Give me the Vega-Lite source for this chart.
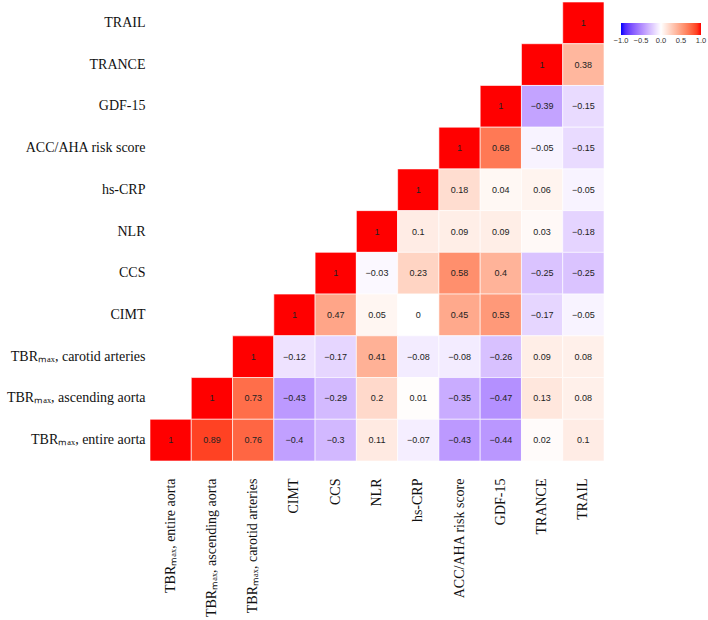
{
  "$schema": "https://vega.github.io/schema/vega-lite/v6.json",
  "autosize": "none",
  "padding": {"left": 150, "top": 2, "right": 104, "bottom": 159},
  "width": 454,
  "height": 459,
  "background": "white",
  "config": {"view": {"stroke": null}},
  "data": {"values": [
    {"x": "TRAIL", "y": "TRAIL", "r": 1},
    {"x": "TRANCE", "y": "TRANCE", "r": 1},
    {"x": "TRAIL", "y": "TRANCE", "r": 0.38},
    {"x": "GDF-15", "y": "GDF-15", "r": 1},
    {"x": "TRANCE", "y": "GDF-15", "r": -0.39},
    {"x": "TRAIL", "y": "GDF-15", "r": -0.15},
    {"x": "ACC/AHA risk score", "y": "ACC/AHA risk score", "r": 1},
    {"x": "GDF-15", "y": "ACC/AHA risk score", "r": 0.68},
    {"x": "TRANCE", "y": "ACC/AHA risk score", "r": -0.05},
    {"x": "TRAIL", "y": "ACC/AHA risk score", "r": -0.15},
    {"x": "hs-CRP", "y": "hs-CRP", "r": 1},
    {"x": "ACC/AHA risk score", "y": "hs-CRP", "r": 0.18},
    {"x": "GDF-15", "y": "hs-CRP", "r": 0.04},
    {"x": "TRANCE", "y": "hs-CRP", "r": 0.06},
    {"x": "TRAIL", "y": "hs-CRP", "r": -0.05},
    {"x": "NLR", "y": "NLR", "r": 1},
    {"x": "hs-CRP", "y": "NLR", "r": 0.1},
    {"x": "ACC/AHA risk score", "y": "NLR", "r": 0.09},
    {"x": "GDF-15", "y": "NLR", "r": 0.09},
    {"x": "TRANCE", "y": "NLR", "r": 0.03},
    {"x": "TRAIL", "y": "NLR", "r": -0.18},
    {"x": "CCS", "y": "CCS", "r": 1},
    {"x": "NLR", "y": "CCS", "r": -0.03},
    {"x": "hs-CRP", "y": "CCS", "r": 0.23},
    {"x": "ACC/AHA risk score", "y": "CCS", "r": 0.58},
    {"x": "GDF-15", "y": "CCS", "r": 0.4},
    {"x": "TRANCE", "y": "CCS", "r": -0.25},
    {"x": "TRAIL", "y": "CCS", "r": -0.25},
    {"x": "CIMT", "y": "CIMT", "r": 1},
    {"x": "CCS", "y": "CIMT", "r": 0.47},
    {"x": "NLR", "y": "CIMT", "r": 0.05},
    {"x": "hs-CRP", "y": "CIMT", "r": 0},
    {"x": "ACC/AHA risk score", "y": "CIMT", "r": 0.45},
    {"x": "GDF-15", "y": "CIMT", "r": 0.53},
    {"x": "TRANCE", "y": "CIMT", "r": -0.17},
    {"x": "TRAIL", "y": "CIMT", "r": -0.05},
    {"x": "TBRₘₐₓ, carotid arteries", "y": "TBRₘₐₓ, carotid arteries", "r": 1},
    {"x": "CIMT", "y": "TBRₘₐₓ, carotid arteries", "r": -0.12},
    {"x": "CCS", "y": "TBRₘₐₓ, carotid arteries", "r": -0.17},
    {"x": "NLR", "y": "TBRₘₐₓ, carotid arteries", "r": 0.41},
    {"x": "hs-CRP", "y": "TBRₘₐₓ, carotid arteries", "r": -0.08},
    {"x": "ACC/AHA risk score", "y": "TBRₘₐₓ, carotid arteries", "r": -0.08},
    {"x": "GDF-15", "y": "TBRₘₐₓ, carotid arteries", "r": -0.26},
    {"x": "TRANCE", "y": "TBRₘₐₓ, carotid arteries", "r": 0.09},
    {"x": "TRAIL", "y": "TBRₘₐₓ, carotid arteries", "r": 0.08},
    {"x": "TBRₘₐₓ, ascending aorta", "y": "TBRₘₐₓ, ascending aorta", "r": 1},
    {"x": "TBRₘₐₓ, carotid arteries", "y": "TBRₘₐₓ, ascending aorta", "r": 0.73},
    {"x": "CIMT", "y": "TBRₘₐₓ, ascending aorta", "r": -0.43},
    {"x": "CCS", "y": "TBRₘₐₓ, ascending aorta", "r": -0.29},
    {"x": "NLR", "y": "TBRₘₐₓ, ascending aorta", "r": 0.2},
    {"x": "hs-CRP", "y": "TBRₘₐₓ, ascending aorta", "r": 0.01},
    {"x": "ACC/AHA risk score", "y": "TBRₘₐₓ, ascending aorta", "r": -0.35},
    {"x": "GDF-15", "y": "TBRₘₐₓ, ascending aorta", "r": -0.47},
    {"x": "TRANCE", "y": "TBRₘₐₓ, ascending aorta", "r": 0.13},
    {"x": "TRAIL", "y": "TBRₘₐₓ, ascending aorta", "r": 0.08},
    {"x": "TBRₘₐₓ, entire aorta", "y": "TBRₘₐₓ, entire aorta", "r": 1},
    {"x": "TBRₘₐₓ, ascending aorta", "y": "TBRₘₐₓ, entire aorta", "r": 0.89},
    {"x": "TBRₘₐₓ, carotid arteries", "y": "TBRₘₐₓ, entire aorta", "r": 0.76},
    {"x": "CIMT", "y": "TBRₘₐₓ, entire aorta", "r": -0.4},
    {"x": "CCS", "y": "TBRₘₐₓ, entire aorta", "r": -0.3},
    {"x": "NLR", "y": "TBRₘₐₓ, entire aorta", "r": 0.11},
    {"x": "hs-CRP", "y": "TBRₘₐₓ, entire aorta", "r": -0.07},
    {"x": "ACC/AHA risk score", "y": "TBRₘₐₓ, entire aorta", "r": -0.43},
    {"x": "GDF-15", "y": "TBRₘₐₓ, entire aorta", "r": -0.44},
    {"x": "TRANCE", "y": "TBRₘₐₓ, entire aorta", "r": 0.02},
    {"x": "TRAIL", "y": "TBRₘₐₓ, entire aorta", "r": 0.1}
  ]},
  "encoding": {
    "x": {
      "field": "x", "type": "nominal",
      "sort": ["TBRₘₐₓ, entire aorta", "TBRₘₐₓ, ascending aorta", "TBRₘₐₓ, carotid arteries", "CIMT", "CCS", "NLR", "hs-CRP", "ACC/AHA risk score", "GDF-15", "TRANCE", "TRAIL"],
      "scale": {"paddingInner": 0, "paddingOuter": 0},
      "axis": {"title": null, "domain": false, "ticks": false, "labelAngle": -90, "labelPadding": 17, "labelFont": "Liberation Serif", "labelFontSize": 14, "labelColor": "#111", "labelLimit": 200}
    },
    "y": {
      "field": "y", "type": "nominal",
      "sort": ["TRAIL", "TRANCE", "GDF-15", "ACC/AHA risk score", "hs-CRP", "NLR", "CCS", "CIMT", "TBRₘₐₓ, carotid arteries", "TBRₘₐₓ, ascending aorta", "TBRₘₐₓ, entire aorta"],
      "scale": {"paddingInner": 0, "paddingOuter": 0},
      "axis": {"title": null, "domain": false, "ticks": false, "labelPadding": 5, "labelFont": "Liberation Serif", "labelFontSize": 14, "labelColor": "#111", "labelLimit": 200}
    }
  },
  "layer": [
    {
      "mark": {"type": "rect", "stroke": "white", "strokeWidth": 0.6},
      "encoding": {
        "color": {
          "field": "r", "type": "quantitative",
          "scale": {"domain": [-1, 0, 1], "range": ["blue", "white", "red"], "interpolate": "lab"},
          "legend": {
            "title": null, "orient": "none", "direction": "horizontal",
            "legendX": 471, "legendY": 21,
            "gradientLength": 80, "gradientThickness": 12,
            "values": [-1, -0.5, 0, 0.5, 1], "format": ".1f",
            "labelOverlap": false,
            "labelFont": "Liberation Sans", "labelFontSize": 7.5, "labelColor": "#333",
            "encode": {"labels": {"update": {"align": {"value": "center"}}}}
          }
        }
      }
    },
    {
      "mark": {"type": "text", "font": "Liberation Sans", "fontSize": 9, "color": "#222"},
      "encoding": {
        "text": {"field": "r", "type": "quantitative", "format": ".2~f"}
      }
    }
  ]
}
